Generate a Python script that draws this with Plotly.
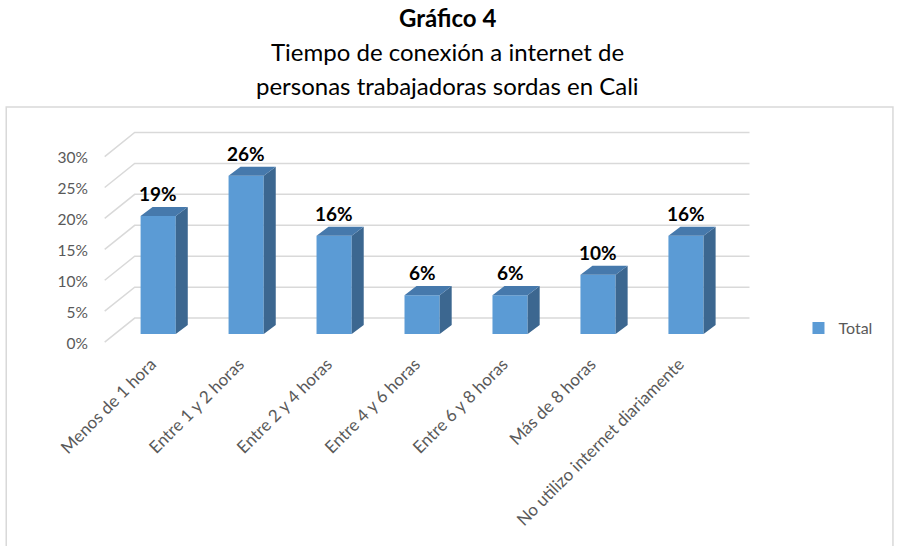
import plotly.graph_objects as go

# ---------------- data ----------------
categories = ["Menos de 1 hora", "Entre 1 y 2 horas", "Entre 2 y 4 horas",
              "Entre 4 y 6 horas", "Entre 6 y 8 horas", "Más de 8 horas",
              "No utilizo internet diariamente"]
values = [19.1, 25.6, 15.9, 6.3, 6.3, 9.6, 15.9]
tick_values = [0, 5, 10, 15, 20, 25, 30]
tick_labels = ["0%", "5%", "10%", "15%", "20%", "25%", "30%"]
series_name = "Total"
title_lines = ["<b>Gráfico 4</b>", "Tiempo de conexión a internet de",
               "personas trabajadoras sordas en Cali"]

# ---------------- geometry (styling) ----------------
W, H = 897, 546
FONT = "Lato"
px_per_cat = 88.0
px_per_pct = 6.17
x0_px = 158.5          # pixel of category 0 center
y0_px = 334.0          # pixel of value 0 on the bar plane
xr = [-0.65, 6.75]
yr = [-1.6, 33.0]
L = x0_px + xr[0] * px_per_cat
R = W - (x0_px + xr[1] * px_per_cat)
T = y0_px - yr[1] * px_per_pct
B = H - (y0_px - yr[0] * px_per_pct)
PW = W - L - R
PH = H - T - B

def px2paper_x(px):
    return (px - L) / PW

def px2paper_y(py):
    return (H - B - py) / PH

bar_w = 0.4
ddx = 12 / px_per_cat          # bar depth offset
ddy = 9 / px_per_pct
front_dx = (105 - x0_px) / px_per_cat   # front-left of the floor/wall
back_dx = (135 - x0_px) / px_per_cat    # back-left of wall
back_right = (750 - x0_px) / px_per_cat
front_dy = -8 / px_per_pct
back_dy = 16 / px_per_pct

fig = go.Figure()

# gridlines (side wall diagonal + back wall horizontal), drawn below the bars
for t in tick_values:
    path = (f"M {front_dx},{t + front_dy} L {back_dx},{t + back_dy} "
            f"L {back_right},{t + back_dy}")
    fig.add_shape(type="path", path=path, xref="x", yref="y",
                  line=dict(color="#D9D9D9", width=1.5), layer="below")

# bars front faces
fig.add_trace(go.Bar(x=list(range(len(categories))), y=values, width=bar_w,
                     name=series_name, marker=dict(color="#5B9BD5", line=dict(width=0)),
                     hovertext=categories))

# side faces and top faces
sx, sy, tx, ty = [], [], [], []
for i, v in enumerate(values):
    r = i + bar_w / 2
    l = i - bar_w / 2
    sx += [r, r + ddx, r + ddx, r, r, None]
    sy += [0, ddy, v + ddy, v, 0, None]
    tx += [l, l + ddx, r + ddx, r, l, None]
    ty += [v, v + ddy, v + ddy, v, v, None]
fig.add_trace(go.Scatter(x=sx, y=sy, mode="lines", fill="toself",
                         fillcolor="#3C6790", line=dict(width=0, color="#3C6790"),
                         hoverinfo="skip", showlegend=False))
fig.add_trace(go.Scatter(x=tx, y=ty, mode="lines", fill="toself",
                         fillcolor="#4679AC", line=dict(width=0, color="#4679AC"),
                         hoverinfo="skip", showlegend=False))

# data labels
for i, v in enumerate(values):
    fig.add_annotation(x=i, y=v + ddy, text=f"<b>{v:.0f}%</b>", showarrow=False,
                       yanchor="bottom", yshift=0,
                       font=dict(family=FONT, size=19, color="#000000"))

# titles
for k, line in enumerate(title_lines):
    fig.add_annotation(xref="paper", yref="paper", x=px2paper_x(448),
                       y=px2paper_y(18 + 34 * k), text=line, showarrow=False,
                       xanchor="center", yanchor="middle",
                       font=dict(family=FONT, size=24, color="#000000"))

# chart border
fig.add_shape(type="rect", xref="paper", yref="paper",
              x0=px2paper_x(6.5), x1=px2paper_x(893.5),
              y0=px2paper_y(600), y1=px2paper_y(107.5),
              line=dict(color="#D9D9D9", width=1.5), layer="below")

fig.update_layout(
    width=W, height=H,
    margin=dict(l=L, r=R, t=T, b=B, autoexpand=False),
    paper_bgcolor="white", plot_bgcolor="white",
    font=dict(family=FONT, color="#595959"),
    showlegend=True,
    legend=dict(x=px2paper_x(799), y=px2paper_y(328), xanchor="left", yanchor="middle",
                font=dict(family=FONT, size=16, color="#595959"),
                itemwidth=30, bgcolor="rgba(0,0,0,0)"),
    xaxis=dict(range=xr, tickvals=list(range(len(categories))), ticktext=categories,
               tickangle=-45, showgrid=False, zeroline=False, showline=False,
               ticks="", tickfont=dict(family=FONT, size=17, color="#595959"),
               ticklabelstandoff=6, ticklabelshift=-7),
    yaxis=dict(range=yr, tickvals=tick_values, ticktext=tick_labels,
               showgrid=False, zeroline=False, showline=False, ticks="",
               tickfont=dict(family=FONT, size=15.5, color="#595959"),
               ticklabelshift=9, ticklabelstandoff=12),
)

fig.write_html("out.html", config={"displayModeBar": False},
               post_script="document.body.style.margin='0';document.body.style.padding='0';")
